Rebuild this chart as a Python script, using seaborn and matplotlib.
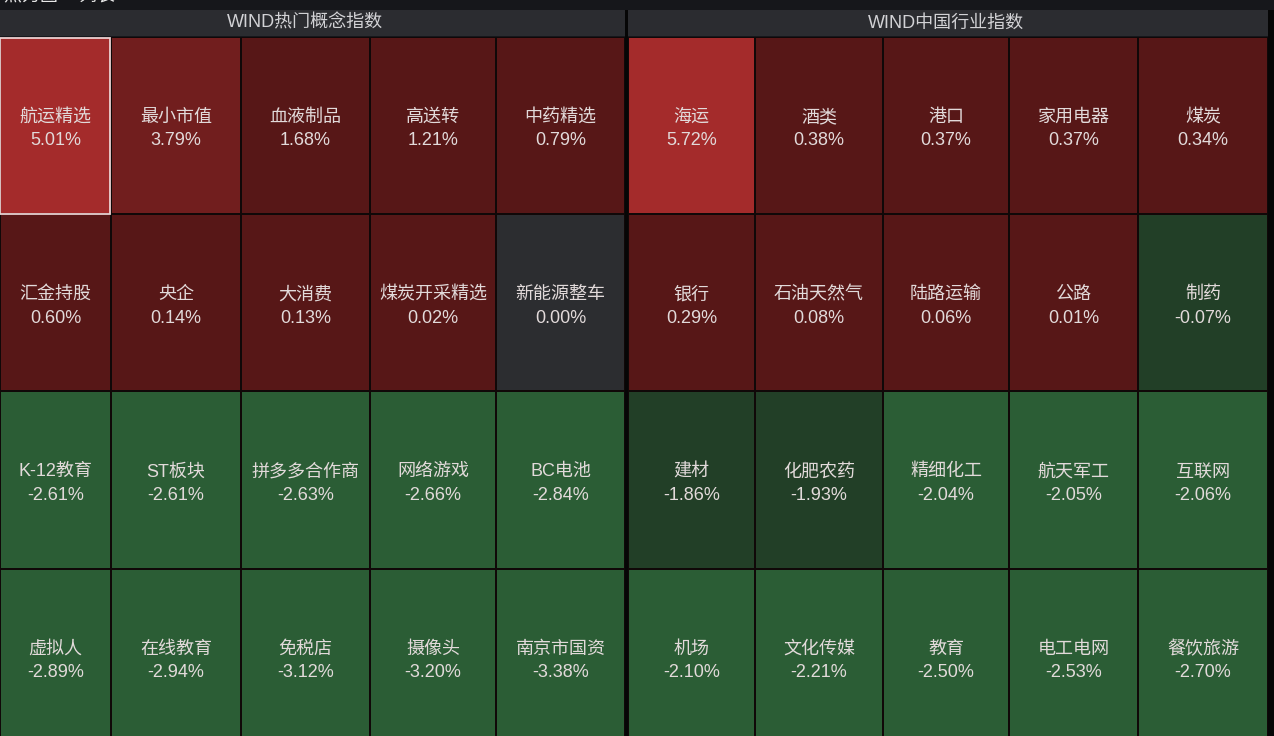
import numpy as np
import pandas as pd
import matplotlib
matplotlib.use("Agg")
import matplotlib.pyplot as plt
import seaborn as sns
from matplotlib.colors import ListedColormap, BoundaryNorm
from matplotlib.patches import Rectangle

# ---------------- data ----------------
panel_titles = ["WIND热门概念指数", "WIND中国行业指数"]

concept_names = ["航运精选", "最小市值", "血液制品", "高送转", "中药精选",
                 "汇金持股", "央企", "大消费", "煤炭开采精选", "新能源整车",
                 "K-12教育", "ST板块", "拼多多合作商", "网络游戏", "BC电池",
                 "虚拟人", "在线教育", "免税店", "摄像头", "南京市国资"]
concept_values = [5.01, 3.79, 1.68, 1.21, 0.79,
                  0.60, 0.14, 0.13, 0.02, 0.00,
                  -2.61, -2.61, -2.63, -2.66, -2.84,
                  -2.89, -2.94, -3.12, -3.20, -3.38]

industry_names = ["海运", "酒类", "港口", "家用电器", "煤炭",
                  "银行", "石油天然气", "陆路运输", "公路", "制药",
                  "建材", "化肥农药", "精细化工", "航天军工", "互联网",
                  "机场", "文化传媒", "教育", "电工电网", "餐饮旅游"]
industry_values = [5.72, 0.38, 0.37, 0.37, 0.34,
                   0.29, 0.08, 0.06, 0.01, -0.07,
                   -1.86, -1.93, -2.04, -2.05, -2.06,
                   -2.10, -2.21, -2.50, -2.53, -2.70]

top_label = "热力图 ○ 列表"

# ---------------- style ----------------
sns.set_theme(style="white")
plt.rcParams['font.family'] = ['Liberation Sans', 'Noto Sans CJK SC', 'DejaVu Sans']

W, H = 1274, 736
fig = plt.figure(figsize=(W / 100, H / 100), dpi=100, facecolor='#16171b')

level_colors = ['#2b5d35', '#223f27', '#2c2d30', '#571717', '#711e1e', '#a42b2b']
bounds = [-100, -2.0, -0.005, 0.005, 3.0, 4.5, 100]
cmap = ListedColormap(level_colors)
norm = BoundaryNorm(bounds, cmap.N)

col_edges = [[0, 111, 241, 370, 496, 625], [628, 755, 883, 1009, 1138, 1268]]
top_px, bot_px = 37, 746
n_rows, n_cols = 4, 5

def fig_rect(x0, y0, x1, y1):
    return [x0 / W, 1 - y1 / H, (x1 - x0) / W, (y1 - y0) / H]

panels = [(concept_names, concept_values), (industry_names, industry_values)]
for p, (names, values) in enumerate(panels):
    vals = np.array(values).reshape(n_rows, n_cols)
    labs = np.array([f"{n}\n{v:.2f}%" for n, v in zip(names, values)]).reshape(n_rows, n_cols)
    edges = col_edges[p]
    for c in range(n_cols):
        ax = fig.add_axes(fig_rect(edges[c], top_px, edges[c + 1], bot_px))
        df = pd.DataFrame(vals[:, c:c + 1])
        sns.heatmap(df, ax=ax, cmap=cmap, norm=norm, cbar=False,
                    annot=labs[:, c:c + 1], fmt="",
                    linewidths=1.2, linecolor='#100808',
                    annot_kws={'color': '#e2dada', 'fontsize': 13,
                               'linespacing': 1.5})
        ax.set_xticks([]); ax.set_yticks([])
        ax.set_xlabel(""); ax.set_ylabel("")
        for t in ax.texts:
            x, y = t.get_position()
            t.set_position((x, y + 0.02))
        if p == 0 and c == 0:
            ax.add_patch(Rectangle((0.004, 0.003), 0.99, 0.994, fill=False,
                                   edgecolor='#ecd2d2', lw=1.3, clip_on=False))
    # header bar
    hx0, hx1 = edges[0], edges[-1]
    fig.patches.append(Rectangle((hx0 / W, 1 - 36 / H), (hx1 - hx0) / W, 26 / H,
                                 transform=fig.transFigure, facecolor='#2b2c30',
                                 edgecolor='none', zorder=0))
    cx = 305 if p == 0 else 946
    fig.text(cx / W, 1 - 23 / H, panel_titles[p], color='#d2d2d5',
             fontsize=13, ha='center', va='center')

# separators
fig.patches.append(Rectangle((625 / W, 0), 3 / W, 1 - 10 / H, transform=fig.transFigure,
                             facecolor='#060606', edgecolor='none', zorder=5))
fig.patches.append(Rectangle((1268 / W, 0), 6 / W, 1 - 10 / H, transform=fig.transFigure,
                             facecolor='#060606', edgecolor='none', zorder=5))

fig.text(4 / W, 1 + 4 / H, top_label, color='#e8e8e8', fontsize=13,
         ha='left', va='center')

fig.savefig("out.png", dpi=100, facecolor=fig.get_facecolor())
